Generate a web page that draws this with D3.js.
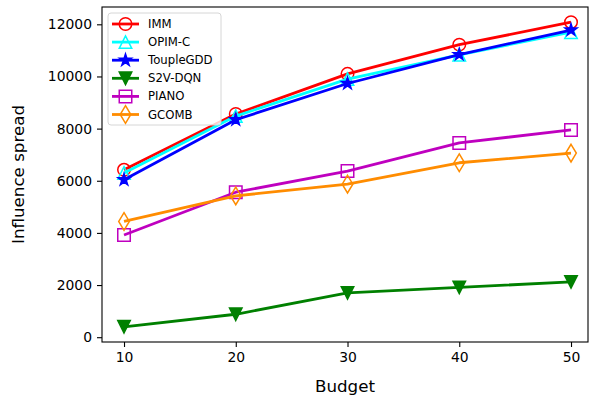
<!DOCTYPE html>
<meta charset="utf-8">
<script src="https://d3js.org/d3.v7.min.js"></script>
<style>
  body { margin: 0; background: #fff; }
  text { font-family: "DejaVu Sans", sans-serif; fill: #000; }
</style>
<div id="chart"></div>
<script>

    // data
    var budgets = [10, 20, 30, 40, 50];
    var seriesNames = ["IMM", "OPIM-C", "ToupleGDD", "S2V-DQN", "PIANO", "GCOMB"];
    var imm       = [6420, 8560, 10100, 11220, 12080];
    var opimc     = [6300, 8480, 9900, 10830, 11700];
    var toupleGDD = [6040, 8340, 9730, 10840, 11780];
    var s2vdqn    = [400, 880, 1700, 1910, 2120];
    var piano     = [3920, 5560, 6370, 7450, 7950];
    var gcomb     = [4440, 5420, 5870, 6690, 7060];
    var yTicks = [0, 2000, 4000, 6000, 8000, 10000, 12000];

    var allValues = [imm, opimc, toupleGDD, s2vdqn, piano, gcomb];
    var colors  = ["#ff0000", "#00ffff", "#0000ff", "#008000", "#bf00bf", "#ff8c00"];
    var markers = ["circle", "triUp", "star", "triDown", "square", "thinDiamond"];
    var filled  = [false, false, true, true, false, false];

    var W = 591, H = 400;
    var margin = {top: 7, right: 3, bottom: 58, left: 102},
        width = W - margin.left - margin.right,
        height = H - margin.top - margin.bottom;

    var svg = d3.select("#chart").append("svg")
        .attr("width", W).attr("height", H);
    var g = svg.append("g")
        .attr("transform", "translate(" + margin.left + "," + margin.top + ")");

    // x limits as measured on the reference
    var x = d3.scaleLinear().domain([8.03, 51.52]).range([0, width]);
    // matplotlib-like 5% padding on y
    var yMin = d3.min(allValues, function(a) { return d3.min(a); }),
        yMax = d3.max(allValues, function(a) { return d3.max(a); }),
        pad = (yMax - yMin) * 0.05;
    var y = d3.scaleLinear().domain([yMin - pad, yMax + pad]).range([height, 0]);

    // marker shapes, s = markersize in px
    function markerPath(type, s) {
        var h = s / 2;
        if (type === "circle") return d3.symbol(d3.symbolCircle, Math.PI * h * h)();
        if (type === "square") return "M" + (-h) + "," + (-h) + "H" + h + "V" + h + "H" + (-h) + "Z";
        if (type === "triUp") return "M0," + (-h) + "L" + h + "," + h + "L" + (-h) + "," + h + "Z";
        if (type === "triDown") return "M0," + h + "L" + h + "," + (-h) + "L" + (-h) + "," + (-h) + "Z";
        if (type === "thinDiamond") {
            var d = s * Math.SQRT2 / 2;
            return "M0," + (-d) + "L" + (d * 0.6) + ",0L0," + d + "L" + (-d * 0.6) + ",0Z";
        }
        if (type === "star") {
            var pts = [];
            for (var i = 0; i < 10; i++) {
                var r = i % 2 === 0 ? h : h * 0.381966;
                var a = -Math.PI / 2 + i * Math.PI / 5;
                pts.push([r * Math.cos(a), r * Math.sin(a)]);
            }
            return "M" + pts.join("L") + "Z";
        }
    }

    // axes
    var xAxis = g.append("g")
        .attr("transform", "translate(0," + height + ")")
        .call(d3.axisBottom(x).tickValues(budgets).tickSize(5).tickPadding(5));
    var yAxis = g.append("g")
        .call(d3.axisLeft(y).tickValues(yTicks).tickSize(5).tickPadding(5).tickFormat(d3.format("d")));
    [xAxis, yAxis].forEach(function(ax) {
        ax.select(".domain").remove();
        ax.selectAll("line").attr("stroke", "#000").attr("stroke-width", 1.1);
        ax.selectAll("text").style("font-size", "13.9px").style("font-family", "DejaVu Sans");
    });

    // lines and markers
    var line = d3.line()
        .x(function(d, i) { return x(budgets[i]); })
        .y(function(d) { return y(d); });

    allValues.forEach(function(vals, k) {
        g.append("path")
            .datum(vals)
            .attr("fill", "none")
            .attr("stroke", colors[k])
            .attr("stroke-width", 2.8)
            .attr("stroke-linejoin", "round")
            .attr("d", line);
        g.selectAll(".m" + k)
            .data(vals)
            .enter().append("path")
            .attr("class", "m" + k)
            .attr("transform", function(d, i) { return "translate(" + x(budgets[i]) + "," + y(d) + ")"; })
            .attr("d", markerPath(markers[k], 12.5))
            .attr("fill", filled[k] ? colors[k] : "none")
            .attr("stroke", colors[k])
            .attr("stroke-width", 1.5);
    });

    // frame
    g.append("rect")
        .attr("width", width).attr("height", height)
        .attr("fill", "none").attr("stroke", "#000").attr("stroke-width", 1.1);

    // axis labels
    svg.append("text")
        .attr("x", margin.left + width / 2)
        .attr("y", 392)
        .attr("text-anchor", "middle")
        .style("font-size", "16.7px")
        .text("Budget");
    svg.append("text")
        .attr("transform", "translate(24," + (margin.top + height / 2) + ") rotate(-90)")
        .attr("text-anchor", "middle")
        .style("font-size", "16.7px")
        .text("Influence spread");

    // legend
    var leg = g.append("g").attr("transform", "translate(6,6)");
    leg.append("rect")
        .attr("width", 113).attr("height", 112).attr("rx", 3)
        .attr("fill", "#fff").attr("fill-opacity", 0.8)
        .attr("stroke", "#d6d6d6").attr("stroke-width", 1);
    seriesNames.forEach(function(name, k) {
        var cy = 11 + k * 18.1;
        leg.append("line")
            .attr("x1", 4).attr("x2", 31).attr("y1", cy).attr("y2", cy)
            .attr("stroke", colors[k]).attr("stroke-width", 2.8);
        leg.append("path")
            .attr("transform", "translate(17.5," + cy + ")")
            .attr("d", markerPath(markers[k], 12.5))
            .attr("fill", filled[k] ? colors[k] : "none")
            .attr("stroke", colors[k]).attr("stroke-width", 1.5);
        leg.append("text")
            .attr("x", 40).attr("y", cy)
            .attr("dy", "0.35em")
            .style("font-size", "11.7px")
            .text(name);
    });

</script>
